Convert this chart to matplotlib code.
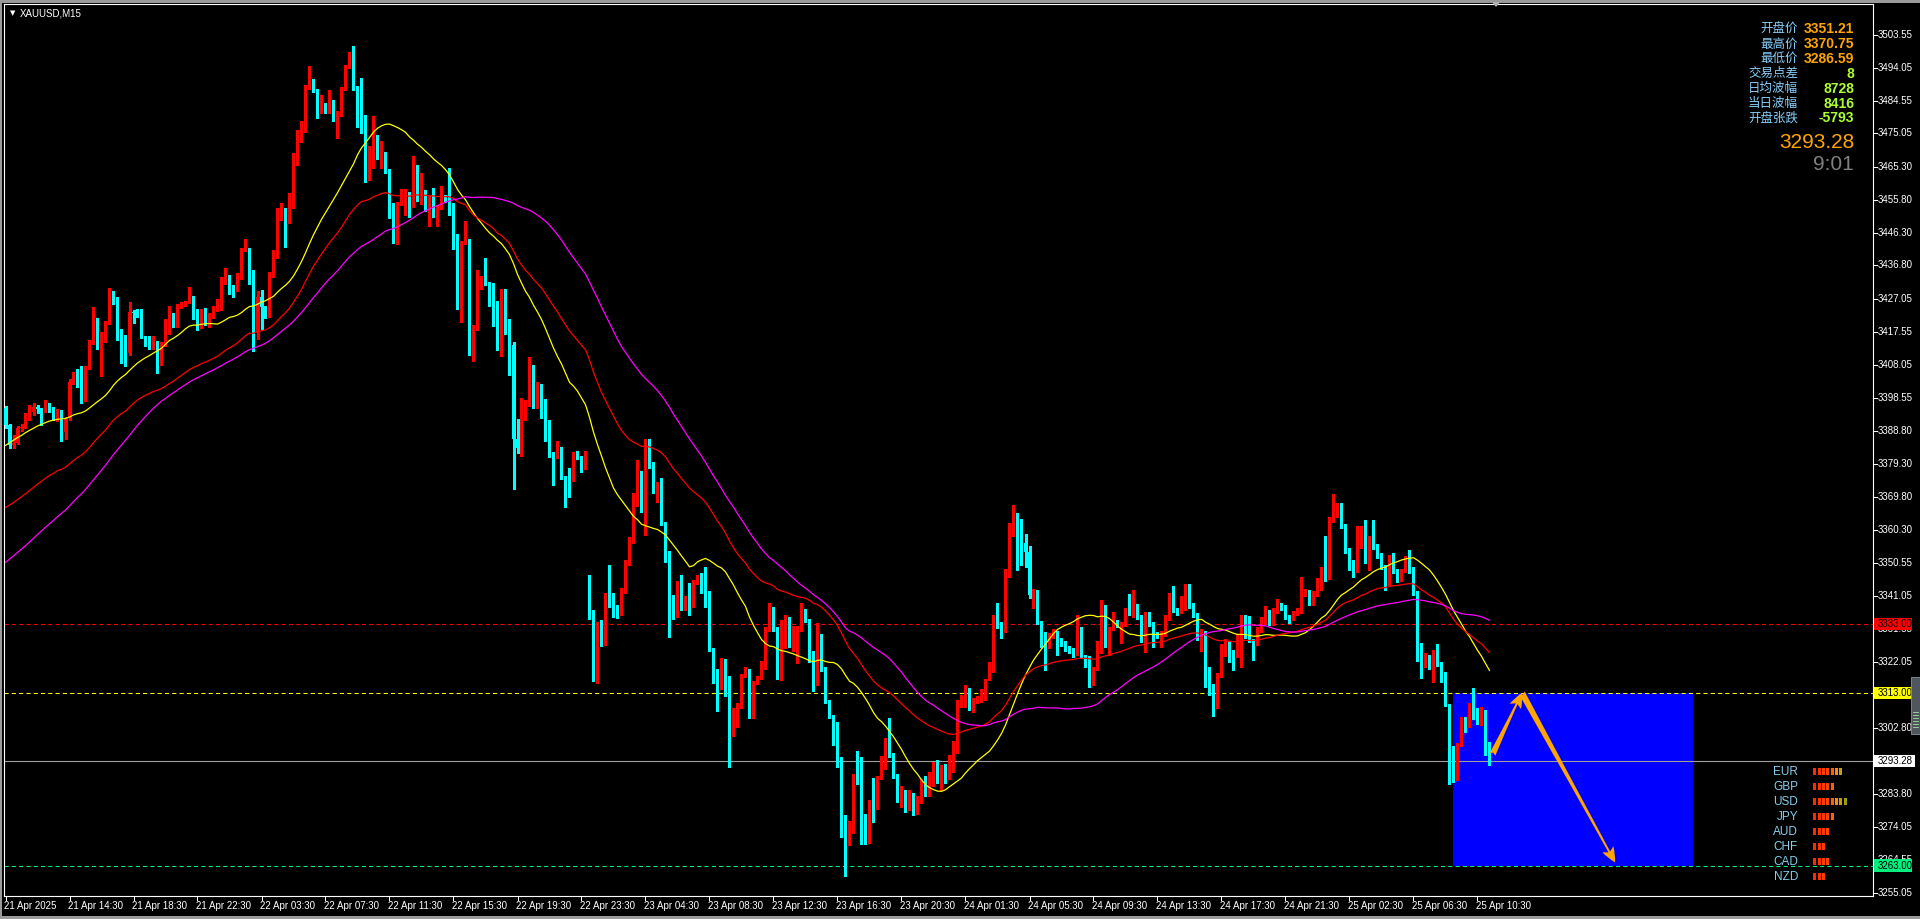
import matplotlib
matplotlib.use('Agg')
import matplotlib.pyplot as plt
import matplotlib.transforms as mtransforms
from matplotlib.patches import Rectangle, Polygon
import numpy as np
import pandas as pd

W, H = 1920, 919

# ---- XAUUSD M15 candles, 21 Apr 10:30 .. 25 Apr 11:15 ----
closes = [
    3390.6, 3384.8, 3385.5, 3389.6, 3390.1, 3392.5, 3394.5, 3395.9, 3395.1, 3394.9,
    3396.9, 3395.4, 3392.2, 3394.9, 3388.7, 3392.5, 3403.1, 3404.4, 3402.7, 3398.0,
    3407.3, 3414.7, 3420.2, 3416.4, 3416.7, 3420.2, 3426.3, 3426.3, 3417.8, 3416.4,
    3411.5, 3423.4, 3423.1, 3422.7, 3416.4, 3414.2, 3413.1, 3414.5, 3408.9, 3414.0,
    3417.6, 3422.5, 3419.6, 3424.9, 3425.6, 3426.1, 3427.6, 3421.8, 3419.6, 3423.4,
    3420.0, 3422.3, 3424.1, 3424.6, 3432.1, 3433.8, 3430.2, 3429.9, 3433.8, 3441.5,
    3441.8, 3434.3, 3417.1, 3427.8, 3424.7, 3424.4, 3434.0, 3439.8, 3450.5, 3452.9,
    3449.5, 3456.0, 3468.3, 3473.1, 3476.6, 3488.6, 3490.5, 3487.9, 3481.6, 3483.5,
    3481.6, 3484.6, 3479.5, 3480.6, 3487.9, 3494.5, 3497.7, 3488.4, 3485.5, 3480.0,
    3462.2, 3465.7, 3474.0, 3468.4, 3469.4, 3464.2, 3451.1, 3443.9, 3454.8, 3456.5,
    3456.9, 3454.2, 3465.6, 3457.8, 3458.4, 3453.1, 3456.5, 3452.9, 3453.6, 3456.8,
    3456.1, 3454.8, 3445.4, 3431.5, 3443.5, 3444.3, 3411.5, 3418.8, 3430.7, 3432.2,
    3431.5, 3430.1, 3426.0, 3412.7, 3429.3, 3417.7, 3413.8, 3386.6, 3383.8, 3393.0,
    3396.9, 3407.4, 3396.2, 3402.1, 3397.7, 3388.5, 3382.4, 3381.3, 3381.8, 3375.5,
    3374.9, 3374.8, 3382.4, 3381.3, 3380.0, 3380.9, 3336.0, 3318.6, 3332.2, 3327.4,
    3341.1, 3339.7, 3338.0, 3336.5, 3342.8, 3350.7, 3356.8, 3367.7, 3371.6, 3367.9,
    3385.8, 3379.0, 3372.0, 3373.2, 3362.3, 3353.9, 3336.5, 3335.1, 3344.7, 3338.9,
    3340.1, 3339.1, 3345.2, 3346.9, 3346.6, 3338.8, 3325.6, 3319.2, 3316.3, 3322.5,
    3312.7, 3300.6, 3307.7, 3309.2, 3318.2, 3319.4, 3305.9, 3316.0, 3317.2, 3321.6,
    3331.7, 3335.6, 3331.7, 3317.4, 3331.7, 3334.3, 3329.8, 3330.1, 3331.7, 3336.0,
    3334.1, 3324.5, 3317.7, 3329.5, 3319.8, 3310.5, 3305.9, 3299.9, 3292.1, 3277.1,
    3269.6, 3275.2, 3288.9, 3287.3, 3277.3, 3276.7, 3281.5, 3280.0, 3288.5, 3291.8,
    3298.2, 3295.0, 3289.2, 3282.5, 3284.0, 3281.0, 3283.5, 3279.5, 3282.0, 3286.5,
    3284.0, 3287.5, 3291.0, 3288.5, 3290.5, 3289.0, 3292.5, 3297.0, 3310.0, 3311.0,
    3314.0, 3309.0, 3310.8, 3311.1, 3312.1, 3316.6, 3321.6, 3334.8, 3333.0, 3331.7,
    3348.4, 3359.2, 3361.9, 3357.1, 3356.3, 3353.9, 3341.4, 3342.2, 3333.6, 3330.2,
    3326.4, 3329.8, 3330.9, 3328.8, 3327.4, 3325.9, 3325.5, 3324.7, 3331.2, 3323.5,
    3323.3, 3319.6, 3320.1, 3324.9, 3338.0, 3330.1, 3331.6, 3333.6, 3332.4, 3332.9,
    3337.2, 3335.9, 3338.0, 3335.1, 3330.1, 3335.8, 3333.0, 3330.2, 3329.8, 3330.3,
    3334.4, 3341.6, 3337.0, 3336.6, 3337.2, 3338.5, 3338.2, 3335.6, 3328.8, 3330.7,
    3316.3, 3315.3, 3313.6, 3318.2, 3326.6, 3327.6, 3324.9, 3323.8, 3329.3, 3335.1,
    3329.6, 3328.3, 3327.4, 3331.4, 3334.1, 3336.8, 3333.3, 3336.8, 3338.5, 3337.8,
    3335.1, 3334.6, 3336.2, 3336.8, 3341.6, 3342.3, 3339.4, 3341.6, 3344.9, 3348.8,
    3346.5, 3363.3, 3365.8, 3367.1, 3361.6, 3354.4, 3351.0, 3348.6, 3355.8, 3357.6,
    3351.3, 3357.8, 3355.4, 3352.9, 3349.6, 3345.5, 3352.7, 3348.4, 3346.2, 3348.6,
    3349.6, 3348.6, 3342.0, 3323.5, 3321.4, 3323.7, 3321.4, 3324.9, 3321.4, 3318.9,
    3309.5, 3294.3, 3288.6, 3297.9, 3305.2, 3304.4, 3309.2, 3306.1, 3304.5, 3307.6,
    3295.5, 3293.28,
]

highs = [
    3396.0, 3391.0, 3387.7, 3390.2, 3391.0, 3394.0, 3396.4, 3396.9, 3396.3, 3395.5,
    3397.8, 3397.0, 3395.8, 3395.3, 3395.0, 3393.0, 3403.8, 3406.0, 3406.7, 3407.7,
    3407.8, 3415.2, 3424.7, 3421.5, 3417.5, 3420.8, 3430.4, 3429.4, 3427.8, 3418.5,
    3416.8, 3426.3, 3423.8, 3424.1, 3424.1, 3416.5, 3416.5, 3416.4, 3414.8, 3414.5,
    3421.2, 3425.1, 3422.9, 3425.5, 3426.3, 3426.6, 3430.7, 3428.0, 3424.1, 3424.1,
    3424.4, 3423.0, 3425.1, 3427.0, 3433.5, 3436.2, 3434.0, 3431.0, 3434.5, 3441.8,
    3444.5, 3441.8, 3435.5, 3429.5, 3429.7, 3425.0, 3435.0, 3441.2, 3453.3, 3454.8,
    3453.5, 3457.7, 3469.3, 3476.0, 3478.6, 3489.2, 3494.7, 3490.8, 3488.0, 3486.2,
    3484.0, 3487.5, 3484.8, 3481.5, 3488.5, 3495.0, 3498.6, 3500.3, 3488.8, 3491.0,
    3480.5, 3471.4, 3480.0, 3474.5, 3472.8, 3469.6, 3464.8, 3455.0, 3455.3, 3458.9,
    3458.9, 3458.1, 3468.5, 3466.0, 3463.6, 3458.8, 3457.0, 3459.2, 3454.2, 3459.8,
    3457.2, 3465.0, 3455.0, 3445.8, 3444.0, 3449.8, 3444.5, 3419.5, 3435.4, 3433.8,
    3439.1, 3432.0, 3431.7, 3426.5, 3430.1, 3430.1, 3421.2, 3414.5, 3392.4, 3398.4,
    3397.8, 3410.4, 3408.0, 3403.0, 3402.5, 3398.0, 3392.0, 3382.8, 3386.0, 3384.3,
    3375.8, 3378.1, 3382.8, 3383.0, 3381.5, 3383.0, 3347.2, 3337.0, 3333.5, 3334.1,
    3341.8, 3350.0, 3342.0, 3338.5, 3343.5, 3351.5, 3358.3, 3371.0, 3380.6, 3377.4,
    3386.4, 3386.4, 3379.9, 3374.0, 3375.1, 3362.5, 3354.2, 3341.4, 3345.5, 3347.1,
    3341.0, 3344.7, 3345.8, 3347.1, 3347.6, 3349.4, 3342.6, 3326.0, 3319.8, 3323.0,
    3322.7, 3317.9, 3308.5, 3310.0, 3318.6, 3320.4, 3319.8, 3316.5, 3318.0, 3322.2,
    3332.2, 3339.1, 3337.8, 3332.0, 3334.1, 3335.5, 3334.9, 3332.4, 3332.5, 3338.9,
    3337.2, 3334.5, 3325.0, 3333.3, 3330.0, 3320.5, 3311.0, 3306.5, 3304.7, 3294.5,
    3277.5, 3276.0, 3289.5, 3296.3, 3294.5, 3277.8, 3282.0, 3288.3, 3289.0, 3294.7,
    3299.8, 3305.6, 3295.5, 3289.5, 3286.0, 3285.0, 3285.0, 3284.0, 3283.0, 3288.0,
    3289.0, 3290.0, 3293.0, 3293.5, 3292.0, 3292.5, 3295.0, 3299.0, 3311.0, 3312.4,
    3315.3, 3314.5, 3311.5, 3312.0, 3314.0, 3317.0, 3322.0, 3335.5, 3339.1, 3333.5,
    3348.8, 3362.1, 3367.4, 3365.0, 3363.3, 3359.0, 3355.5, 3343.0, 3342.8, 3333.8,
    3330.5, 3330.3, 3331.5, 3331.0, 3329.0, 3328.0, 3326.5, 3326.0, 3335.6, 3332.2,
    3324.0, 3323.6, 3320.6, 3328.1, 3339.9, 3338.5, 3332.0, 3336.5, 3334.1, 3333.5,
    3337.5, 3341.6, 3342.8, 3338.7, 3335.5, 3336.5, 3336.5, 3333.5, 3330.5, 3330.8,
    3335.6, 3342.0, 3343.9, 3337.5, 3341.1, 3344.5, 3344.5, 3338.9, 3336.0, 3331.5,
    3331.0, 3320.6, 3315.5, 3318.8, 3327.2, 3328.5, 3328.0, 3325.5, 3330.0, 3335.6,
    3335.5, 3335.3, 3328.5, 3332.0, 3335.0, 3338.2, 3337.0, 3337.5, 3340.1, 3339.1,
    3338.5, 3335.5, 3336.8, 3337.5, 3346.7, 3343.0, 3342.8, 3342.5, 3346.2, 3349.5,
    3358.4, 3364.0, 3370.75, 3368.0, 3368.0, 3362.0, 3355.0, 3351.5, 3361.2, 3361.2,
    3363.1, 3358.5, 3363.1, 3356.0, 3353.5, 3350.0, 3353.0, 3353.4, 3348.8, 3349.0,
    3352.7, 3354.4, 3349.5, 3342.5, 3327.5, 3324.5, 3324.0, 3325.5, 3327.2, 3321.9,
    3319.2, 3309.8, 3297.6, 3298.5, 3306.1, 3306.1, 3310.0, 3314.3, 3308.5, 3309.0,
    3308.0, 3298.9,
]

lows = [
    3389.8, 3383.8, 3383.8, 3385.0, 3389.0, 3389.8, 3392.0, 3393.5, 3394.0, 3390.6,
    3394.5, 3394.5, 3392.0, 3391.8, 3386.1, 3386.4, 3392.0, 3402.5, 3401.5, 3397.0,
    3397.5, 3406.8, 3414.0, 3412.6, 3404.8, 3414.7, 3419.8, 3425.5, 3415.2, 3408.6,
    3407.7, 3411.0, 3420.0, 3421.8, 3415.8, 3413.5, 3412.5, 3412.5, 3405.8, 3408.0,
    3413.5, 3417.0, 3419.0, 3419.0, 3424.4, 3425.0, 3426.0, 3421.3, 3418.1, 3418.8,
    3419.5, 3419.0, 3421.5, 3423.5, 3424.0, 3431.5, 3428.5, 3427.8, 3429.5, 3433.0,
    3441.0, 3431.4, 3412.1, 3415.4, 3418.3, 3421.5, 3421.8, 3433.5, 3439.0, 3450.0,
    3442.2, 3449.0, 3453.4, 3466.0, 3472.5, 3475.5, 3488.0, 3487.0, 3479.5, 3481.0,
    3481.0, 3481.0, 3478.5, 3473.6, 3480.0, 3487.5, 3494.0, 3487.5, 3477.0, 3475.3,
    3461.1, 3461.5, 3465.0, 3467.5, 3465.0, 3463.5, 3450.5, 3443.3, 3443.0, 3454.2,
    3451.5, 3450.8, 3453.8, 3455.6, 3454.5, 3452.5, 3448.3, 3450.8, 3448.3, 3453.2,
    3455.3, 3451.5, 3441.5, 3424.1, 3420.4, 3443.0, 3410.9, 3409.0, 3418.0, 3430.0,
    3431.0, 3425.0, 3419.3, 3412.2, 3410.5, 3417.0, 3405.2, 3372.2, 3382.5, 3381.5,
    3392.0, 3396.0, 3395.5, 3395.5, 3392.7, 3386.1, 3381.3, 3373.3, 3381.0, 3375.0,
    3366.9, 3369.8, 3374.5, 3380.7, 3377.0, 3377.8, 3334.5, 3316.5, 3315.8, 3326.5,
    3326.8, 3338.0, 3335.0, 3334.6, 3335.5, 3342.0, 3350.0, 3356.3, 3367.0, 3365.5,
    3358.7, 3378.0, 3371.0, 3368.4, 3361.5, 3351.0, 3329.1, 3334.5, 3334.9, 3337.0,
    3337.0, 3335.5, 3338.0, 3344.5, 3342.0, 3338.0, 3325.0, 3315.8, 3307.9, 3314.0,
    3312.0, 3291.6, 3300.8, 3303.2, 3308.5, 3317.5, 3305.6, 3305.6, 3315.5, 3316.9,
    3319.8, 3331.0, 3331.0, 3316.9, 3316.7, 3325.9, 3326.4, 3325.2, 3321.8, 3331.0,
    3333.5, 3322.0, 3313.6, 3315.3, 3319.4, 3310.2, 3305.6, 3297.9, 3291.6, 3271.2,
    3260.1, 3268.9, 3272.3, 3286.5, 3269.3, 3269.3, 3269.4, 3275.7, 3279.5, 3288.0,
    3291.0, 3294.5, 3288.5, 3281.4, 3280.0, 3278.5, 3279.0, 3277.5, 3278.0, 3281.0,
    3283.0, 3283.0, 3286.0, 3287.0, 3285.0, 3287.0, 3288.0, 3290.0, 3295.5, 3309.0,
    3309.0, 3308.0, 3307.5, 3310.0, 3310.5, 3310.9, 3319.1, 3319.1, 3331.7, 3328.8,
    3330.7, 3346.7, 3358.5, 3348.6, 3350.0, 3349.6, 3340.5, 3337.5, 3333.0, 3326.2,
    3319.6, 3325.9, 3329.0, 3324.0, 3326.5, 3325.0, 3324.6, 3323.5, 3324.0, 3323.0,
    3320.6, 3314.6, 3315.3, 3319.5, 3324.5, 3326.2, 3324.0, 3331.2, 3332.0, 3327.4,
    3332.5, 3335.5, 3335.0, 3334.5, 3327.8, 3324.9, 3332.5, 3326.4, 3329.0, 3326.4,
    3329.5, 3334.0, 3336.5, 3335.5, 3336.0, 3337.0, 3337.5, 3335.0, 3328.3, 3325.0,
    3314.8, 3312.4, 3306.3, 3308.5, 3317.5, 3323.7, 3322.0, 3319.5, 3323.5, 3320.6,
    3329.0, 3327.8, 3322.5, 3326.8, 3330.5, 3333.0, 3332.8, 3332.8, 3336.0, 3337.0,
    3334.5, 3333.3, 3334.0, 3335.5, 3336.0, 3341.0, 3338.5, 3338.5, 3341.0, 3342.8,
    3345.5, 3346.0, 3362.5, 3364.0, 3360.8, 3353.5, 3348.6, 3346.7, 3348.0, 3355.0,
    3350.5, 3348.6, 3354.8, 3352.0, 3349.0, 3342.8, 3344.2, 3347.8, 3345.2, 3345.5,
    3348.0, 3347.8, 3341.5, 3322.3, 3317.2, 3320.5, 3319.8, 3316.3, 3320.8, 3316.3,
    3309.2, 3286.59, 3287.3, 3287.8, 3297.5, 3301.8, 3303.2, 3305.5, 3304.0, 3303.7,
    3295.0, 3292.1,
]

first_open = 3395.4
gap_opens = {146: 3343.0, 330: 3351.2}   # session opens after the daily break

# closes before the visible window (only feed the moving averages)
earlier_closes = [
    3328, 3325, 3323, 3326, 3329, 3327,
    3324, 3327, 3322, 3326, 3329, 3331, 3328, 3325, 3327, 3330, 3326, 3323, 3325, 3328,
    3326, 3324, 3327, 3329, 3326, 3327, 3325,
    3325, 3328, 3324, 3327, 3330, 3326, 3330, 3333, 3330, 3335, 3338, 3342, 3348,
    3366, 3365, 3370, 3374, 3372, 3377, 3380, 3378, 3382, 3385, 3383,
    3386, 3388, 3385, 3390, 3392, 3389, 3393, 3391, 3394, 3392, 3396, 3393, 3395, 3395.4,
]

# yellow / red / magenta moving averages
ma_specs = [('sma', 26, '#FFFF00'), ('ema', 50, '#FF0000'), ('sma', 65, '#FF00FF')]

time_labels = ['21 Apr 2025', '21 Apr 14:30', '21 Apr 18:30', '21 Apr 22:30', '22 Apr 03:30',
               '22 Apr 07:30', '22 Apr 11:30', '22 Apr 15:30', '22 Apr 19:30', '22 Apr 23:30',
               '23 Apr 04:30', '23 Apr 08:30', '23 Apr 12:30', '23 Apr 16:30', '23 Apr 20:30',
               '24 Apr 01:30', '24 Apr 05:30', '24 Apr 09:30', '24 Apr 13:30', '24 Apr 17:30',
               '24 Apr 21:30', '25 Apr 02:30', '25 Apr 06:30', '25 Apr 10:30']
bars_per_label = 16

price_ticks = [3503.55, 3494.05, 3484.55, 3475.05, 3465.30, 3455.80, 3446.30, 3436.80,
               3427.05, 3417.55, 3408.05, 3398.55, 3388.80, 3379.30, 3369.80, 3360.30,
               3350.55, 3341.05, 3331.55, 3322.05, 3312.55, 3302.80, 3293.30, 3283.80,
               3274.05, 3264.55, 3255.05]

level_red, level_yellow, level_green = 3333.00, 3313.00, 3263.00
bid = 3293.28

box_bars = (362, 422)            # blue zone, bar index range
arrow_up = ((371.75, 3295.2), (379.1, 3313.0))
arrow_down = ((379.1, 3313.0), (402.4, 3263.9))

info_labels = ['开盘价', '最高价', '最低价', '交易点差', '日均波幅', '当日波幅', '开盘张跌']
info_values = ['3351.21', '3370.75', '3286.59', '8', '8728', '8416', '-5793']
info_colors = ['#FFA500', '#FFA500', '#FFA500', '#ADFF2F', '#ADFF2F', '#ADFF2F', '#ADFF2F']
countdown = '9:01'

currencies = ['EUR', 'GBP', 'USD', 'JPY', 'AUD', 'CHF', 'CAD', 'NZD']
strength = [7, 5, 8, 5, 4, 3, 4, 3]
strength_colors = ['#FF2A00', '#FF3300', '#FF3C00', '#FF4400', '#FF6000', '#FF8C00', '#C8A000', '#A0A000']

# ---------------------------------------------------------------------------
fig = plt.figure(figsize=(W / 100, H / 100), dpi=100, facecolor='black')
L, R, T, B = 4, 1873, 4, 896
ax = fig.add_axes([L / W, 1 - B / H, (R - L) / W, (B - T) / H])
ax.set_facecolor('black')
px_per_usd = 3.4527
ax.set_xlim((L - 5.5) / 4, (R - 5.5) / 4)
ax.set_ylim(3503.55 - (B - 35) / px_per_usd, 3503.55 + (35 - T) / px_per_usd)
ax.set_xticks([])
ax.set_yticks([])
for s in ax.spines.values():
    s.set_color('white')
    s.set_linewidth(0.8)

n = len(closes)
x = np.arange(n)
c = np.array(closes)
o = np.array([first_open] + closes[:-1])
for k, v in gap_opens.items():
    o[k] = v
top = np.maximum(o, c)
bot = np.minimum(o, c)
hi = np.maximum(np.array(highs), top)
lo = np.minimum(np.array(lows), bot)
col = np.where(c > o, '#FF0000', '#00FFFF')

ax.vlines(x, lo, hi, colors=col, lw=0.75, zorder=3, antialiased=False)
ax.bar(x, np.maximum(top - bot, 0.3), bottom=bot, width=0.75, color=col,
       linewidth=0, zorder=3.1, antialiased=False)

full = pd.Series(earlier_closes + closes, dtype=float)
for kind, p, mc in ma_specs:
    if kind == 'ema':
        ma = full.ewm(span=p, adjust=False).mean()
    else:
        ma = full.rolling(p).mean()
    ax.plot(x, ma.iloc[len(earlier_closes):].to_numpy(), color=mc, lw=0.9, zorder=4)

# zone and levels
ax.add_patch(Rectangle((box_bars[0], level_green), box_bars[1] - box_bars[0],
                       level_yellow - level_green, facecolor='#0000FF',
                       edgecolor='none', zorder=1))
ax.axhline(level_red, color='#FF0000', lw=0.75, ls=(0, (4, 3)), zorder=2)
ax.axhline(level_yellow, color='#FFFF00', lw=0.75, ls=(0, (4, 3)), zorder=2)
ax.axhline(level_green, color='#00F080', lw=0.75, ls=(0, (4, 3)), zorder=2)
ax.axhline(bid, color='#A0A0A0', lw=0.8, zorder=2)

for a, b in (arrow_up, arrow_down):
    ax.annotate('', xy=b, xytext=a,
                arrowprops=dict(arrowstyle='fancy,head_length=0.6,head_width=0.5,tail_width=0.25',
                                color='#FFA500', lw=0, mutation_scale=18,
                                shrinkA=0, shrinkB=0), zorder=5)

# price axis
font = 'Liberation Sans'
tr_r = mtransforms.blended_transform_factory(fig.transFigure, ax.transData)
for p in price_ticks:
    ax.plot([R / W, (R + 4) / W], [p, p], transform=tr_r, color='white', lw=0.75,
            clip_on=False, zorder=3)
    ax.text((R + 5) / W, p, f'{p:.2f}', transform=tr_r, color='white', fontsize=7,
            family=font, va='center', ha='left', clip_on=False, zorder=3)


def price_box(p, fc, w):
    ax.add_patch(Rectangle(((R + 1) / W, p - 1.8), w / W, 3.6, transform=tr_r,
                           facecolor=fc, edgecolor='none', clip_on=False, zorder=6))
    ax.text((R + 5) / W, p, f'{p:.2f}', transform=tr_r, color='black', fontsize=7,
            family=font, va='center', ha='left', clip_on=False, zorder=7)


price_box(level_red, '#FF0000', 38)
price_box(level_yellow, '#FFFF00', 38)
price_box(level_green, '#00F080', 38)
price_box(bid, '#FFFFFF', 41)

# time axis
tr_b = mtransforms.blended_transform_factory(ax.transData, fig.transFigure)
for k, lab in enumerate(time_labels):
    i = k * bars_per_label
    ax.plot([i, i], [1 - B / H, 1 - (B + 4) / H], transform=tr_b, color='white',
            lw=0.75, clip_on=False)
    ax.text(i - 0.3, 1 - 906 / H, lab, transform=tr_b, color='white', fontsize=7,
            family=font, va='center', ha='left', clip_on=False)

# window frame
for rx, ry, rw, rh in [(0, 0, W, 3), (0, 0, 2, H), (0, 916, W, 3)]:
    fig.add_artist(Rectangle((rx / W, 1 - (ry + rh) / H), rw / W, rh / H,
                             transform=fig.transFigure, facecolor='#9A9A9A', edgecolor='none'))
fig.add_artist(Polygon([(1492 / W, 1 - 2 / H), (1500 / W, 1 - 2 / H), (1496 / W, 1 - 7 / H)],
                       closed=True, transform=fig.transFigure, facecolor='#B0B0B0', edgecolor='none'))
fig.add_artist(Rectangle((1911 / W, 1 - 734 / H), 9 / W, 57 / H, transform=fig.transFigure,
                         facecolor='#50565E', edgecolor='#8A9099', lw=0.6))
for k in range(6):
    yy = 1 - (712 + 3 * k) / H
    fig.add_artist(plt.Line2D([1913 / W, 1918 / W], [yy, yy], transform=fig.transFigure,
                              color='#9FE0A0', lw=0.6))

# symbol caption
fig.text(10 / W, 1 - 13 / H, '▼', color='white', fontsize=5, family='DejaVu Sans',
         va='center', ha='left')
fig.text(20 / W, 1 - 13 / H, 'XAUUSD,M15', color='white', fontsize=7, family=font,
         va='center', ha='left')

# info panel
cjk = ['Noto Sans CJK SC', 'DejaVu Sans']
for k, (lab, val, vc) in enumerate(zip(info_labels, info_values, info_colors)):
    yy = 1 - (29 + 14.9 * k) / H
    fig.text(1798 / W, yy, lab, color='#87CEFA', fontsize=9, family=cjk, va='center', ha='right')
    fig.text(1854 / W, yy, val, color=vc, fontsize=10, family=font, weight='bold',
             va='center', ha='right')
fig.text(1854 / W, 1 - 143 / H, f'{bid:.2f}', color='#FFA500', fontsize=15, family=font,
         va='center', ha='right')
fig.text(1854 / W, 1 - 164 / H, countdown, color='#808080', fontsize=15, family=font,
         va='center', ha='right')

# currency strength
for k, (cur, s) in enumerate(zip(currencies, strength)):
    yc = 771.7 + 15 * k
    fig.text(1798 / W, 1 - yc / H, cur, color='#87CEEB', fontsize=8.5, family=font,
             va='center', ha='right')
    for j in range(s):
        fig.add_artist(Rectangle(((1813.3 + 4.33 * j) / W, 1 - (yc + 3.5) / H), 3 / W, 7 / H,
                                 transform=fig.transFigure, facecolor=strength_colors[j],
                                 edgecolor='none'))

fig.savefig('out.png', dpi=100, facecolor='black')
